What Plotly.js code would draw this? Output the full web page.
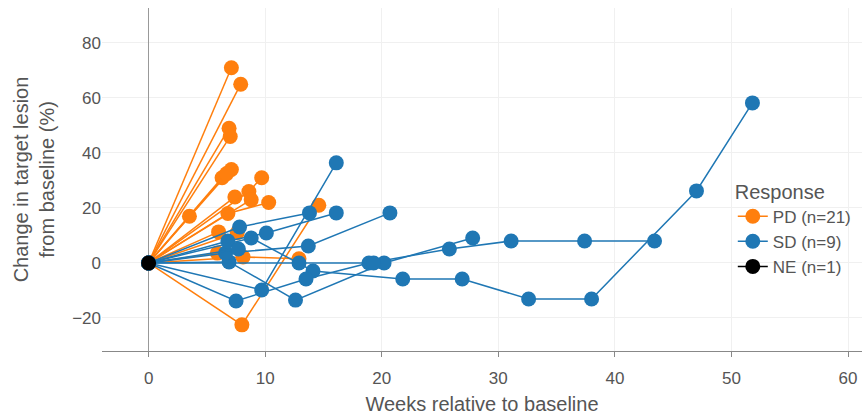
<!DOCTYPE html>
<html>
<head>
<meta charset="utf-8">
<script src="https://cdn.plot.ly/plotly-3.0.1.min.js"></script>
<style>html,body{margin:0;padding:0;background:#fff;}#chart{width:862px;height:415px;}</style>
</head>
<body>
<div id="chart"></div>
<script>
// PD (progressive disease) patients: weeks and % change
const pdWeeks = [
  [0, 7.1], [0, 7.9], [0, 6.9], [0, 7.0], [0, 7.1],
  [0, 3.5, 6.3], [0, 6.7], [0, 7.4], [0, 8.6, 9.7], [0, 8.8],
  [0, 6.8, 10.3], [0, 6.0], [0, 7.6], [0, 5.9], [0, 8.1, 12.9],
  [0, 8.0, 14.6]
];
const pdChange = [
  [0, 71], [0, 65], [0, 49], [0, 46], [0, 34],
  [0, 17, 31], [0, 32.5], [0, 24], [0, 26, 31], [0, 23],
  [0, 18, 22], [0, 11.3], [0, 11], [0, 3.6], [0, 2.2, 1.5],
  [0, -22.5, 21]
];
// SD (stable disease) patients
const sdWeeks = [
  [0, 8.8, 14.1, 21.8, 26.9, 32.6, 38.0, 47.0, 51.8],
  [0, 7.5, 13.5, 18.9, 25.8, 31.1, 37.4, 43.4],
  [0, 9.7, 16.1],
  [0, 6.9, 12.6, 20.2, 27.8],
  [0, 12.9, 19.3],
  [0, 6.6, 13.7, 20.7],
  [0, 6.8, 10.1, 16.1],
  [0, 7.8, 13.8],
  [0, 7.7]
];
const sdChange = [
  [0, 9.1, -2.9, -5.8, -5.8, -13.1, -13.1, 26.2, 58.2],
  [0, -13.8, -5.8, 0, 5.1, 8.0, 8.0, 8.0],
  [0, -9.8, 36.4],
  [0, 0.4, -13.5, 0, 9.1],
  [0, 0, 0],
  [0, 3.6, 6.2, 18.2],
  [0, 8.0, 10.9, 18.2],
  [0, 13.1, 18.2],
  [0, 5.1]
];
// NE (not evaluable)
const neWeeks = [[0]];
const neChange = [[0]];

const groups = [
  {name: 'PD (n=21)', color: '#ff7f0e', w: pdWeeks, c: pdChange},
  {name: 'SD (n=9)', color: '#1f77b4', w: sdWeeks, c: sdChange},
  {name: 'NE (n=1)', color: '#000000', w: neWeeks, c: neChange}
];

const traces = [];
groups.forEach(g => {
  g.w.forEach((wk, i) => {
    traces.push({
      x: wk, y: g.c[i], type: 'scatter', mode: 'lines+markers',
      name: g.name, legendgroup: g.name, showlegend: i === 0,
      line: {color: g.color, width: 1.5},
      marker: {color: g.color, size: 15}
    });
  });
});

const font = {family: 'Liberation Sans, Arial, sans-serif', color: '#555'};
const layout = {
  width: 862, height: 415,
  margin: {l: 102, r: 0, t: 8, b: 64},
  paper_bgcolor: '#fff', plot_bgcolor: '#fff',
  font: font,
  showlegend: true,
  legend: {
    x: 0.83, y: 0.52, xanchor: 'left', yanchor: 'top',
    title: {text: 'Response', font: {size: 20, color: '#555', family: font.family}},
    font: {size: 17, color: '#555', family: font.family},
    bgcolor: 'rgba(255,255,255,0)', tracegroupgap: 0
  },
  xaxis: {
    range: [-4, 61.2], tickvals: [0, 10, 20, 30, 40, 50, 60],
    showgrid: true, gridcolor: '#f0f0f0',
    zeroline: true, zerolinecolor: '#999', zerolinewidth: 1.5,
    showline: true, linecolor: '#888', linewidth: 1.2,
    ticks: 'outside', ticklen: 5, tickcolor: '#888',
    ticklabelstandoff: 6,
    tickfont: {size: 17, color: '#555'},
    title: {text: 'Weeks relative to baseline', font: {size: 20, color: '#555'}, standoff: 10}
  },
  yaxis: {
    range: [-32, 92.7], tickvals: [-20, 0, 20, 40, 60, 80],
    ticktext: ['\u221220', '0', '20', '40', '60', '80'],
    showgrid: true, gridcolor: '#f0f0f0',
    zeroline: false, showline: false, ticks: '',
    tickfont: {size: 17, color: '#555'},
    title: {text: 'Change in target lesion<br>from baseline (%)', font: {size: 20, color: '#555'}, standoff: 12}
  }
};

Plotly.newPlot('chart', traces, layout, {displayModeBar: false, staticPlot: true});
</script>
</body>
</html>
